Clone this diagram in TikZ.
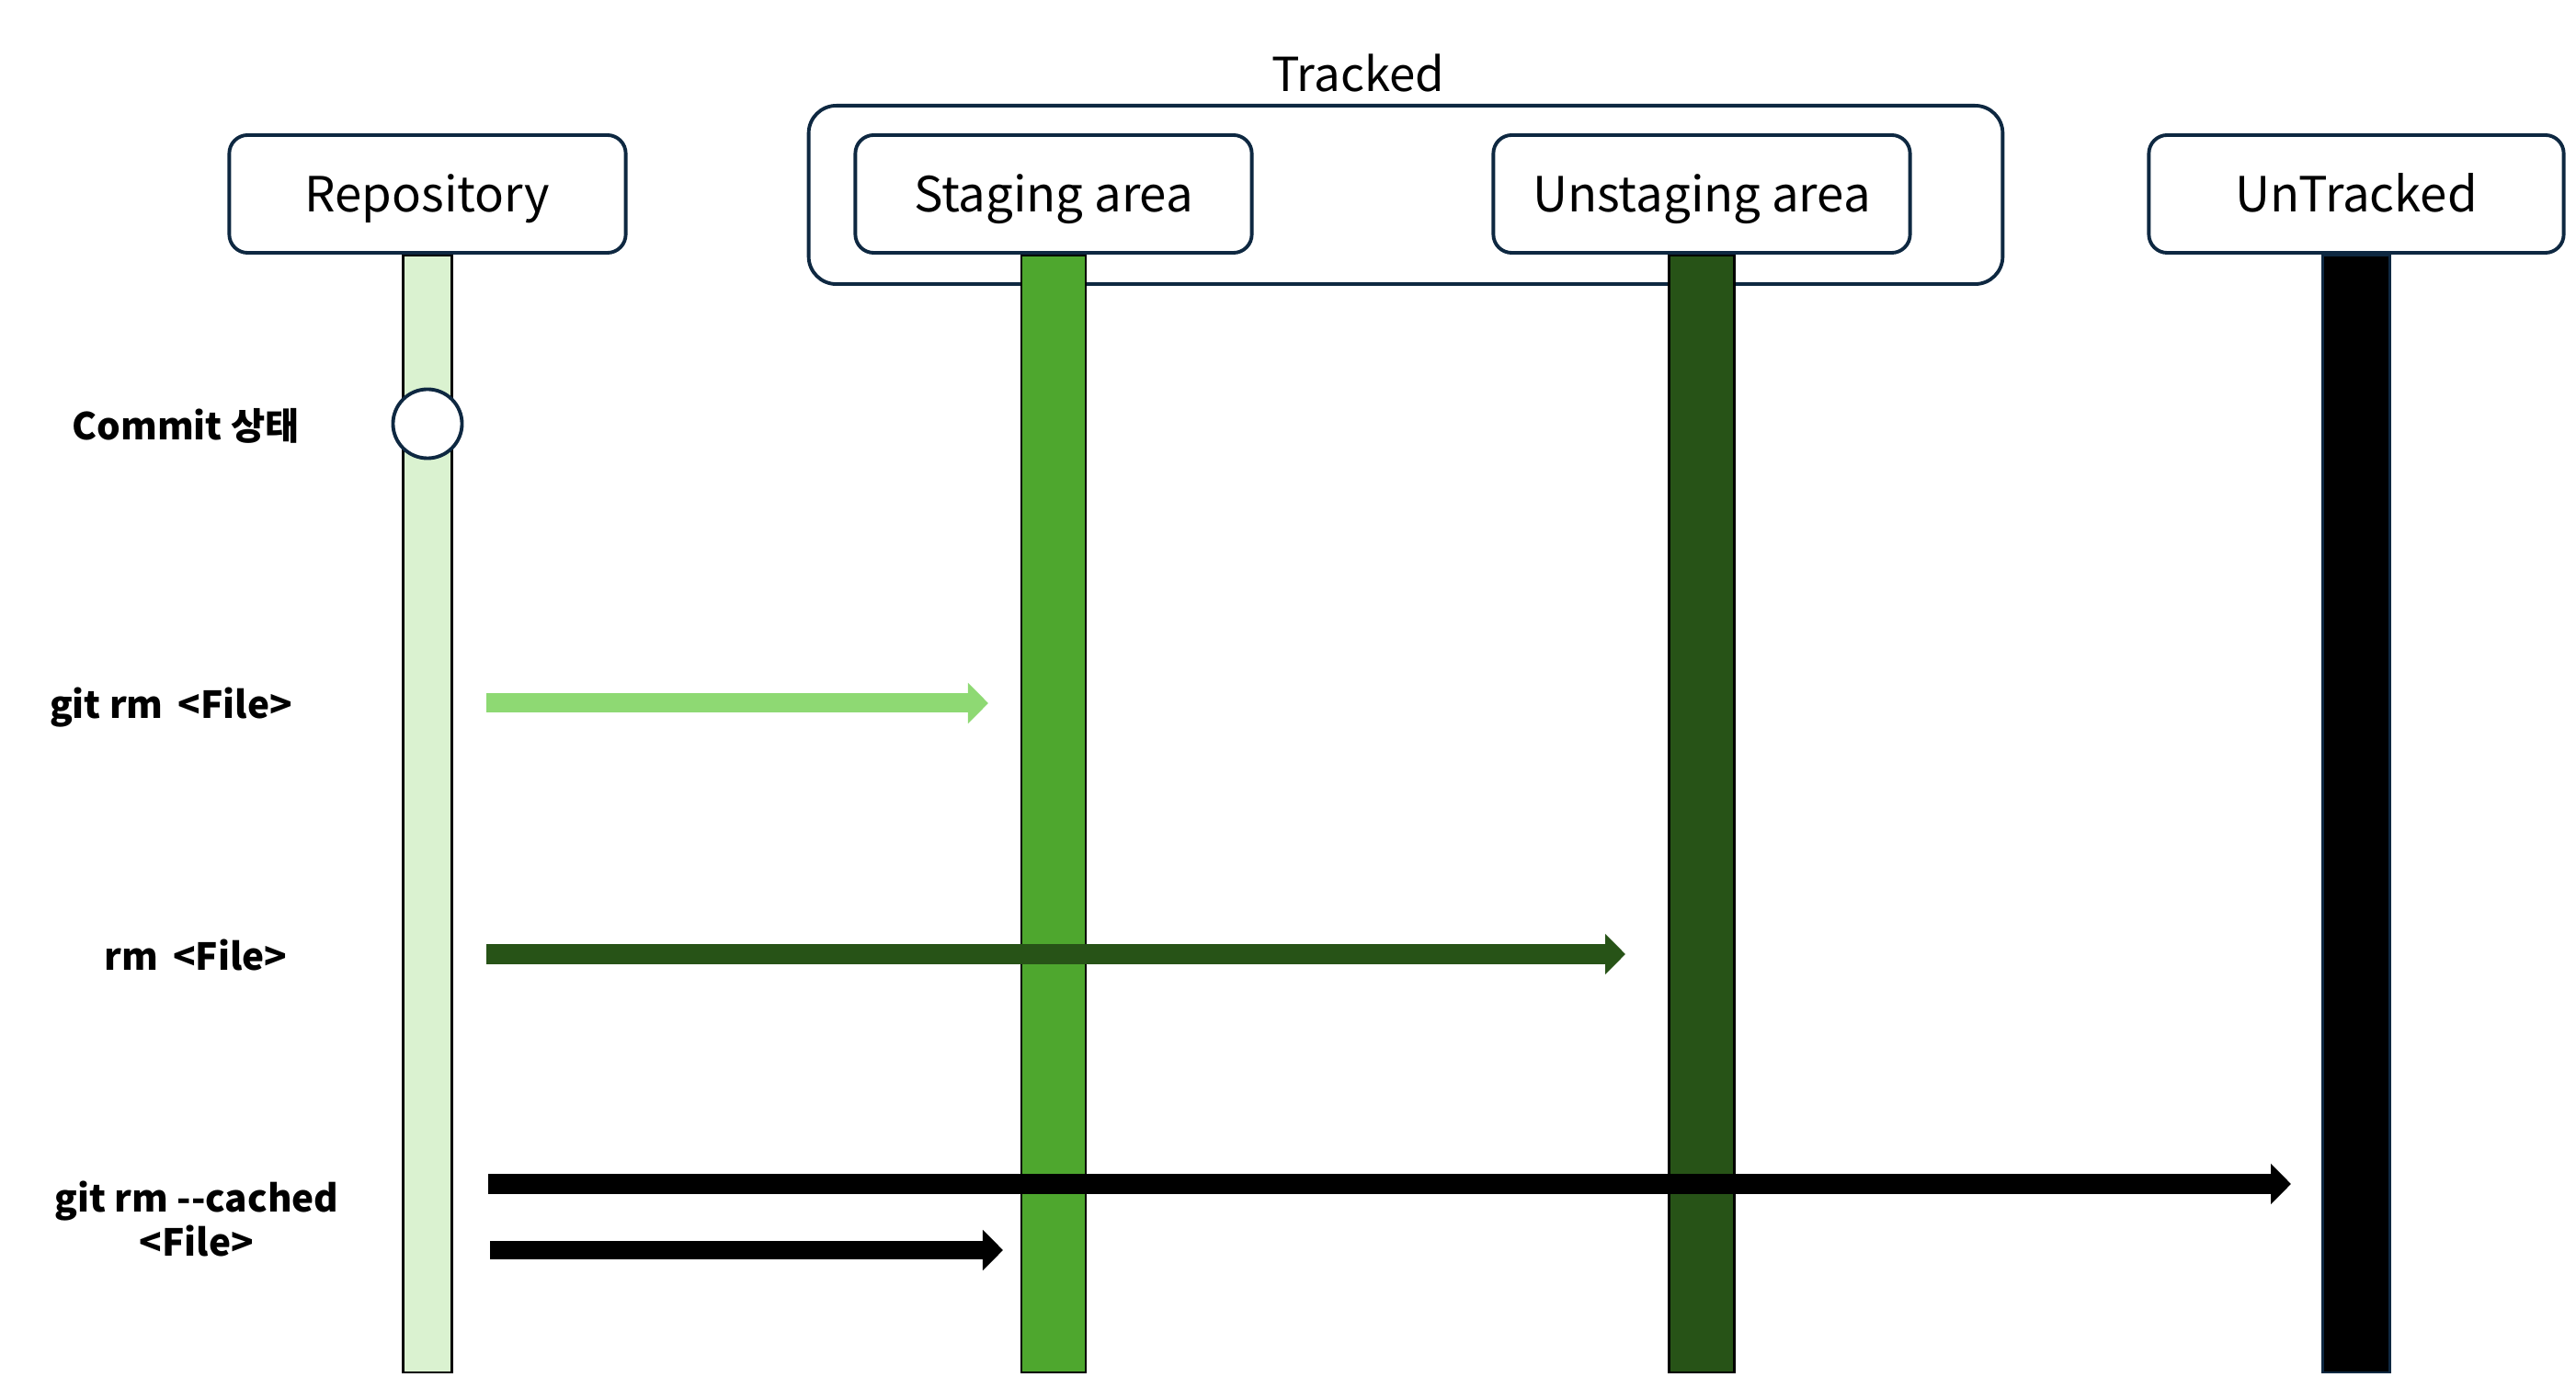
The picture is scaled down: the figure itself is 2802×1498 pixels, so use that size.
\documentclass[tikz,border=0pt]{standalone}
\usepackage{fontspec}
\setmainfont{Noto Sans CJK KR}
\usepackage{tikz}
\usetikzlibrary{arrows.meta,positioning}
\definecolor{outline}{RGB}{14,40,65}
\definecolor{repogreen}{RGB}{218,242,208}
\definecolor{stagegreen}{RGB}{78,167,46}
\definecolor{unstagegreen}{RGB}{39,83,23}
\definecolor{lightgreen}{RGB}{142,217,115}
\tikzset{
  areabox/.style={rectangle,rounded corners=2mm,draw=outline,line width=1.1pt,fill=white,
    minimum width=43.1mm,minimum height=12.8mm,text height=11pt,text depth=0pt,
    font=\fontsize{15pt}{18pt}\selectfont},
  lifeline/.style={rectangle,draw=black,line width=0.7pt,anchor=north,inner sep=0pt,
    minimum height=121.4mm},
  cmdlabel/.style={align=center,font=\fontsize{11.5pt}{13.6pt}\selectfont\bfseries},
  cmdarrow/.style={-{Triangle[length=2.2mm,width=4.3mm]},line width=2.1mm}
}

\begin{document}
\begin{tikzpicture}[x=0.01cm,y=-0.01cm]
\useasboundingbox (0,0) rectangle (2802,1498);
% tracked group
\node[rectangle,rounded corners=3mm,draw=outline,line width=1.1pt,
  minimum width=129.8mm,minimum height=19.4mm] (tracked) at (1529,212) {};
\node[font=\fontsize{14.5pt}{18pt}\selectfont] (trackedlabel) at (1477,80) {Tracked};
% areas
\node[areabox] (repo) at (465,211) {Repository};
\node[areabox] (staging) at (1146,211) {Staging area};
\node[areabox,minimum width=45.3mm] (unstaging) at (1851,211) {Unstaging area};
\node[areabox,minimum width=45.1mm] (untracked) at (2563,211) {UnTracked};
% lifelines
\node[lifeline,fill=repogreen,minimum width=5.3mm] (repoline) at (repo.south) {};
\node[lifeline,fill=stagegreen,minimum width=7mm] (stageline) at (staging.south) {};
\node[lifeline,fill=unstagegreen,minimum width=7.1mm] (unstageline) at (unstaging.south) {};
\node[lifeline,fill=black,draw=outline,minimum width=7.3mm] (untrackline) at (untracked.south) {};
\node[circle,draw=outline,fill=white,line width=1.1pt,minimum size=7.5mm,inner sep=0pt]
  (commit) at (465,461) {};
% commands
\node[cmdlabel] (commitlabel) at (202,463) {Commit 상태};
\node[cmdlabel] (gitrmlabel) at (186,770) {git rm \,<File>};
\node[cmdlabel] (rmlabel) at (213,1039) {rm \,<File>};
\node[cmdlabel] (cachedlabel) at (214,1326) {git rm \mbox{-}\mbox{-}cached\\<File>};
\coordinate (gitrmstart) at (529,765);
\coordinate (gitrmend) at (1075,765);
\coordinate (rmstart) at (529,1038);
\coordinate (rmend) at (1768,1038);
\coordinate (cachedstart) at (531,1288);
\coordinate (cachedend) at (2492,1288);
\coordinate (cachedstart2) at (533,1360);
\coordinate (cachedend2) at (1091,1360);
\draw[cmdarrow,lightgreen] (gitrmstart) -- (gitrmend);
\draw[cmdarrow,unstagegreen] (rmstart) -- (rmend);
\draw[cmdarrow,black] (cachedstart) -- (cachedend);
\draw[cmdarrow,black,line width=1.9mm] (cachedstart2) -- (cachedend2);
\end{tikzpicture}
\end{document}
